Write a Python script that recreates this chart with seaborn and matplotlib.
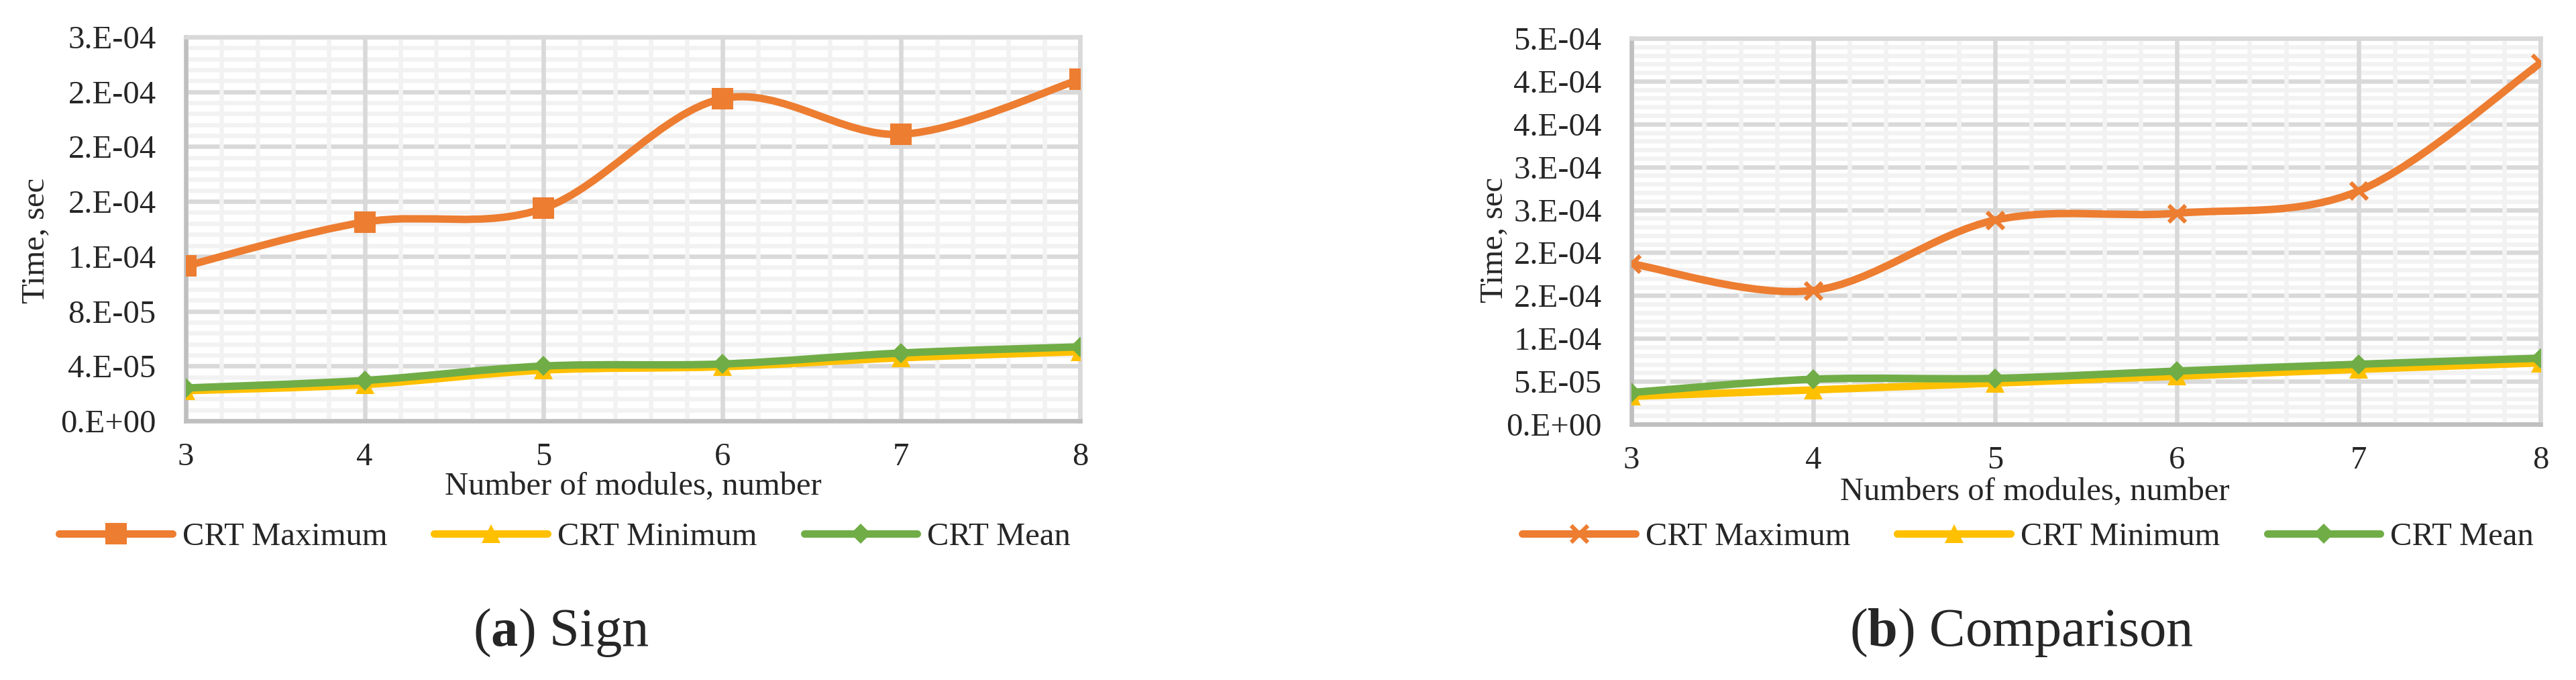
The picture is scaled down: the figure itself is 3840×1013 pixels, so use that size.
import math
import numpy as np
import matplotlib
matplotlib.use("Agg")
import matplotlib.pyplot as plt
from matplotlib.path import Path
from matplotlib.patches import PathPatch
from matplotlib.lines import Line2D
from matplotlib.ticker import FuncFormatter
import seaborn as sns

# data
modules = [3, 4, 5, 6, 7, 8]

sign_max = [1.13e-4, 1.45e-4, 1.55e-4, 2.35e-4, 2.09e-4, 2.49e-4]
sign_min = [2.2e-5, 2.65e-5, 3.7e-5, 3.95e-5, 4.6e-5, 5.05e-5]
sign_mean = [2.4e-5, 2.95e-5, 4.0e-5, 4.15e-5, 4.95e-5, 5.4e-5]

cmp_max = [1.87e-4, 1.56e-4, 2.38e-4, 2.46e-4, 2.72e-4, 4.21e-4]
cmp_min = [3.25e-5, 4.0e-5, 4.8e-5, 5.6e-5, 6.4e-5, 7.15e-5]
cmp_mean = [3.7e-5, 5.25e-5, 5.35e-5, 6.2e-5, 7.0e-5, 7.7e-5]

series_names = ["CRT Maximum", "CRT Minimum", "CRT Mean"]
colors = ["#ED7D31", "#FFC000", "#70AD47"]

sns.set_style("white")
plt.rcParams["font.family"] = ["Liberation Serif", "DejaVu Serif"]
plt.rcParams["mathtext.fontset"] = "custom"
plt.rcParams["mathtext.rm"] = "Liberation Serif"
plt.rcParams["mathtext.bf"] = "Liberation Serif:bold"

FS = 35
LW = 8
GRID_LW = 4.7


def excel_sci(v, pos=None):
    # mimic Excel's "0.E+00" number format (round half up)
    if abs(v) < 1e-15:
        return "0.E+00"
    e = math.floor(math.log10(abs(v)))
    m = round(v / 10 ** e, 6)
    m = math.floor(m + 0.5)
    if m >= 10:
        m = 1
        e += 1
    return f"{m}.E{e:+03d}"


def smooth_path(xs, ys):
    # Excel style smoothed line: cubic bezier through the points
    pts = list(zip(xs, ys))
    verts = [pts[0]]
    codes = [Path.MOVETO]
    n = len(pts)
    for i in range(n - 1):
        p0 = pts[i - 1] if i > 0 else pts[i]
        p1 = pts[i]
        p2 = pts[i + 1]
        p3 = pts[i + 2] if i + 2 < n else pts[i + 1]
        c1 = (p1[0] + (p2[0] - p0[0]) / 6, p1[1] + (p2[1] - p0[1]) / 6)
        c2 = (p2[0] - (p3[0] - p1[0]) / 6, p2[1] - (p3[1] - p1[1]) / 6)
        verts += [c1, c2, p2]
        codes += [Path.CURVE4] * 3
    return Path(verts, codes)


def draw_grid(ax):
    # Excel order: horizontal minor, horizontal major, vertical minor, vertical major
    for y in ax.get_yticks(minor=True):
        ax.axhline(y, color="#F2F2F2", lw=GRID_LW, zorder=0.1)
    for y in ax.get_yticks():
        ax.axhline(y, color="#D9D9D9", lw=GRID_LW, zorder=0.2)
    for x in ax.get_xticks(minor=True):
        ax.axvline(x, color="#F2F2F2", lw=GRID_LW, zorder=0.3)
    for x in ax.get_xticks():
        ax.axvline(x, color="#D9D9D9", lw=GRID_LW, zorder=0.4)


def draw_panel(ax, data, markers, ymax, ystep, xlabel):
    ax.set_xlim(3, 8)
    ax.set_ylim(0, ymax)
    nmaj = int(round(ymax / ystep))
    ax.set_yticks(np.linspace(0, ymax, nmaj + 1))
    ax.set_yticks(np.linspace(0, ymax, nmaj * 5 + 1), minor=True)
    ax.set_xticks(modules)
    ax.set_xticks(np.linspace(3, 8, 26), minor=True)
    ax.yaxis.set_major_formatter(FuncFormatter(excel_sci))
    draw_grid(ax)

    for vals, col, mk in zip(data, colors, markers):
        patch = PathPatch(smooth_path(modules, vals), facecolor="none",
                          edgecolor=col, lw=LW, capstyle="round",
                          joinstyle="round", zorder=3)
        ax.add_patch(patch)
        sns.lineplot(x=modules, y=vals, ax=ax, color=col, linestyle="",
                     markeredgecolor=col, zorder=4, legend=False, **mk)

    ax.set_xlim(3, 8)
    ax.set_ylim(0, ymax)
    for s in ["left", "bottom"]:
        ax.spines[s].set_color("#BFBFBF")
        ax.spines[s].set_linewidth(GRID_LW)
    for s in ["top", "right"]:
        ax.spines[s].set_color("#D9D9D9")
        ax.spines[s].set_linewidth(GRID_LW)
    ax.tick_params(which="both", length=0, labelsize=FS)
    ax.tick_params(axis="x", pad=23)
    ax.tick_params(axis="y", pad=32)
    ax.set_xlabel(xlabel, fontsize=FS)
    ax.set_ylabel("Time, sec", fontsize=FS)


fig = plt.figure(figsize=(38.4, 10.13), dpi=100)
ax1 = fig.add_axes([0.07214, 0.38105, 0.34714, 0.56466])
ax2 = fig.add_axes([0.63333, 0.37611, 0.35286, 0.56762])

sign_markers = [dict(marker="s", markersize=23, markeredgewidth=0),
                dict(marker="^", markersize=20, markeredgewidth=0),
                dict(marker="D", markersize=15, markeredgewidth=0)]
cmp_markers = [dict(marker="x", markersize=18, markeredgewidth=4.5),
               dict(marker="^", markersize=20, markeredgewidth=0),
               dict(marker="D", markersize=15, markeredgewidth=0)]

draw_panel(ax1, [sign_max, sign_min, sign_mean], sign_markers,
           2.8e-4, 4e-5, "Number of modules, number")
draw_panel(ax2, [cmp_max, cmp_min, cmp_mean], cmp_markers,
           4.5e-4, 5e-5, "Numbers of modules, number")

ax1.xaxis.set_label_coords(0.5, -0.133)
ax2.xaxis.set_label_coords(0.4435, -0.139)
ax1.yaxis.set_label_coords(-0.1515, 0.47)
ax2.yaxis.set_label_coords(-0.135, 0.477)

for mk_set, cx in [(sign_markers, 842), (cmp_markers, 3023)]:
    handles = [Line2D([0], [0], color=c, lw=LW, solid_capstyle="round",
                      markeredgecolor=c, **m)
               for c, m in zip(colors, mk_set)]
    fig.legend(handles, series_names, ncol=3, loc="center",
               bbox_to_anchor=(cx / 3840, 1 - 800 / 1013), frameon=False,
               fontsize=FS, handlelength=3.47, handletextpad=0.3,
               columnspacing=1.45)

fig.text(836 / 3840, 1 - 943 / 1013, r"($\mathbf{a}$) Sign",
         ha="center", va="center", fontsize=58)
fig.text(3013 / 3840, 1 - 943 / 1013, r"($\mathbf{b}$) Comparison",
         ha="center", va="center", fontsize=58)

fig.savefig("out.png", dpi=100)
